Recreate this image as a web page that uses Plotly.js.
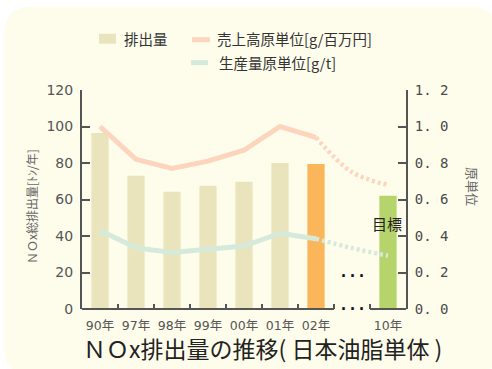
<!DOCTYPE html>
<html>
<head>
<meta charset="utf-8">
<script src="https://cdn.plot.ly/plotly-3.0.1.min.js"></script>
<style>
html,body{margin:0;padding:0;background:#ffffff;width:492px;height:369px;overflow:hidden;}
#panel{position:absolute;left:5px;top:7px;width:492px;height:368px;background:#FEFDEC;border-radius:22px;}
#chart{position:absolute;left:0;top:0;width:492px;height:369px;}
</style>
</head>
<body>
<div id="panel"></div>
<div id="chart"></div>
<script>
// ---- data ----
const categories = ['90年','97年','98年','99年','00年','01年','02年',' ','10年'];
const emissions = [96.5, 73, 64.3, 67.5, 69.7, 80, 79.4, null, 62];
const barColors = ['#E9E4BC','#E9E4BC','#E9E4BC','#E9E4BC','#E9E4BC','#E9E4BC','#FBB55B','#E9E4BC','#B6D46C'];
const salesCats = ['90年','97年','98年','99年','00年','01年','02年'];
const salesIntensity = [1.0, 0.82, 0.77, 0.81, 0.87, 1.0, 0.94];
const prodIntensity = [0.43, 0.335, 0.31, 0.33, 0.345, 0.415, 0.385];
const targetCats = ['02年',' ','10年'];
const salesTarget = [0.94, 0.75, 0.68];
const prodTarget = [0.385, 0.334, 0.292];
const leftTicks = [0,20,40,60,80,100,120];
const rightTickVals = [0,0.2,0.4,0.6,0.8,1.0,1.2];
const rightTickText = ['0. 0','0. 2','0. 4','0. 6','0. 8','1. 0','1. 2'];

const salmon = '#FDD5BD';
const mint = '#D5EADB';
const axisCol = '#555555';

const traces = [
  {type:'bar', x:categories, y:emissions, marker:{color:barColors}, width:0.48, hoverinfo:'skip', showlegend:false},
  {type:'scatter', mode:'lines', x:salesCats, y:salesIntensity, yaxis:'y2', line:{color:salmon, width:5}, showlegend:false},
  {type:'scatter', mode:'lines', x:salesCats, y:prodIntensity, yaxis:'y2', line:{color:mint, width:5}, showlegend:false},
  {type:'scatter', mode:'lines', x:targetCats, y:salesTarget, yaxis:'y2', line:{color:salmon, width:4.5, dash:'3px,3px', shape:'spline'}, showlegend:false},
  {type:'scatter', mode:'lines', x:targetCats, y:prodTarget, yaxis:'y2', line:{color:mint, width:4.5, dash:'3px,3px', shape:'spline'}, showlegend:false}
];

const L = 82, R = 406, T = 89.5, B = 309.5;
const W = R - L, H = B - T;
const px = v => (v - L) / W;
const py = v => (B - v) / H;

const tickFont = {family:'DejaVu Sans, Noto Sans CJK JP', size:14, color:axisCol};

const layout = {
  width:492, height:369,
  margin:{l:L, r:492-R, t:T, b:369-B, pad:0},
  paper_bgcolor:'rgba(0,0,0,0)',
  plot_bgcolor:'rgba(0,0,0,0)',
  showlegend:false,
  bargap:0.5,
  xaxis:{
    type:'category', categoryorder:'array', categoryarray:categories,
    range:[-0.5, 8.5], showline:false, showgrid:false, zeroline:false,
    ticks:'inside', ticklen:5, tickwidth:2, tickcolor:axisCol, tickson:'boundaries',
    tickangle:0, ticklabelstandoff:7,
    tickfont:{family:'DejaVu Sans, Noto Sans CJK JP', size:12.5, color:axisCol},
    fixedrange:true
  },
  yaxis:{
    range:[0,120], tickvals:leftTicks, showline:true, linecolor:axisCol, linewidth:2,
    ticks:'inside', ticklen:8, tickwidth:2, tickcolor:axisCol, showgrid:false, zeroline:false,
    tickfont:tickFont, ticklabelstandoff:4
  },
  yaxis2:{
    overlaying:'y', side:'right', range:[0,1.2], tickvals:rightTickVals, ticktext:rightTickText,
    showline:true, linecolor:axisCol, linewidth:2,
    ticks:'inside', ticklen:8, tickwidth:2, tickcolor:axisCol, showgrid:false, zeroline:false,
    tickfont:{family:'DejaVu Sans Mono', size:14, color:'#4a4a4a'}, ticklabelstandoff:4
  },
  shapes:[
    {type:'line', xref:'x', yref:'paper', x0:-0.5, x1:6.5, y0:0, y1:0, line:{color:axisCol, width:2}},
    {type:'line', xref:'x', yref:'paper', x0:7.5, x1:8.5, y0:0, y1:0, line:{color:axisCol, width:2}},
    // legend keys
    {type:'rect', xref:'paper', yref:'paper', x0:px(99), x1:px(116), y0:py(43), y1:py(33), fillcolor:'#E9E4BC', line:{width:0}},
    {type:'line', xref:'paper', yref:'paper', x0:px(192), x1:px(210), y0:py(39), y1:py(39), line:{color:salmon, width:5}},
    {type:'line', xref:'paper', yref:'paper', x0:px(191), x1:px(208), y0:py(62), y1:py(62), line:{color:mint, width:5}}
  ],
  annotations:[
    {xref:'paper', yref:'paper', x:px(122), y:py(38), xanchor:'left', yanchor:'middle', showarrow:false,
     text:'排出量', font:{family:'Noto Sans CJK JP', size:14.5, color:'#333'}},
    {xref:'paper', yref:'paper', x:px(215), y:py(38), xanchor:'left', yanchor:'middle', showarrow:false,
     text:'売上高原単位[g/百万円]', font:{family:'Noto Sans CJK JP', size:14.5, color:'#333'}},
    {xref:'paper', yref:'paper', x:px(217), y:py(62), xanchor:'left', yanchor:'middle', showarrow:false,
     text:'生産量原単位[g/t]', font:{family:'Noto Sans CJK JP', size:14.5, color:'#333'}},
    {xref:'paper', yref:'paper', x:px(32), y:py(207), xanchor:'center', yanchor:'middle', showarrow:false, textangle:-90,
     text:'ＮＯx総排出量[ﾄﾝ/年]', font:{family:'Noto Sans CJK JP', size:12, color:'#666'}},
    {xref:'paper', yref:'paper', x:px(473), y:py(186), xanchor:'center', yanchor:'middle', showarrow:false, textangle:90,
     text:'原単位', font:{family:'Noto Sans CJK JP', size:13, color:'#666'}},
    {xref:'paper', yref:'paper', x:px(262), y:py(349), xanchor:'center', yanchor:'middle', showarrow:false,
     text:'ＮＯx排出量の推移( 日本油脂単体 )', font:{family:'Noto Sans CJK JP', size:23, color:'#222'}},
    {xref:'paper', yref:'paper', x:px(387), y:py(224), xanchor:'center', yanchor:'middle', showarrow:false,
     text:'目標', font:{family:'Noto Sans CJK JP', size:15, color:'#222'}},
    {xref:'x', yref:'paper', x:7, y:py(272), xanchor:'center', yanchor:'middle', showarrow:false,
     text:'<b>...</b>', font:{family:'DejaVu Sans Mono', size:15, color:'#111'}},
    {xref:'x', yref:'paper', x:7, y:py(305), xanchor:'center', yanchor:'middle', showarrow:false,
     text:'<b>...</b>', font:{family:'DejaVu Sans Mono', size:15, color:'#111'}}
  ]
};

Plotly.newPlot('chart', traces, layout, {staticPlot:true, displayModeBar:false});
</script>
</body>
</html>
